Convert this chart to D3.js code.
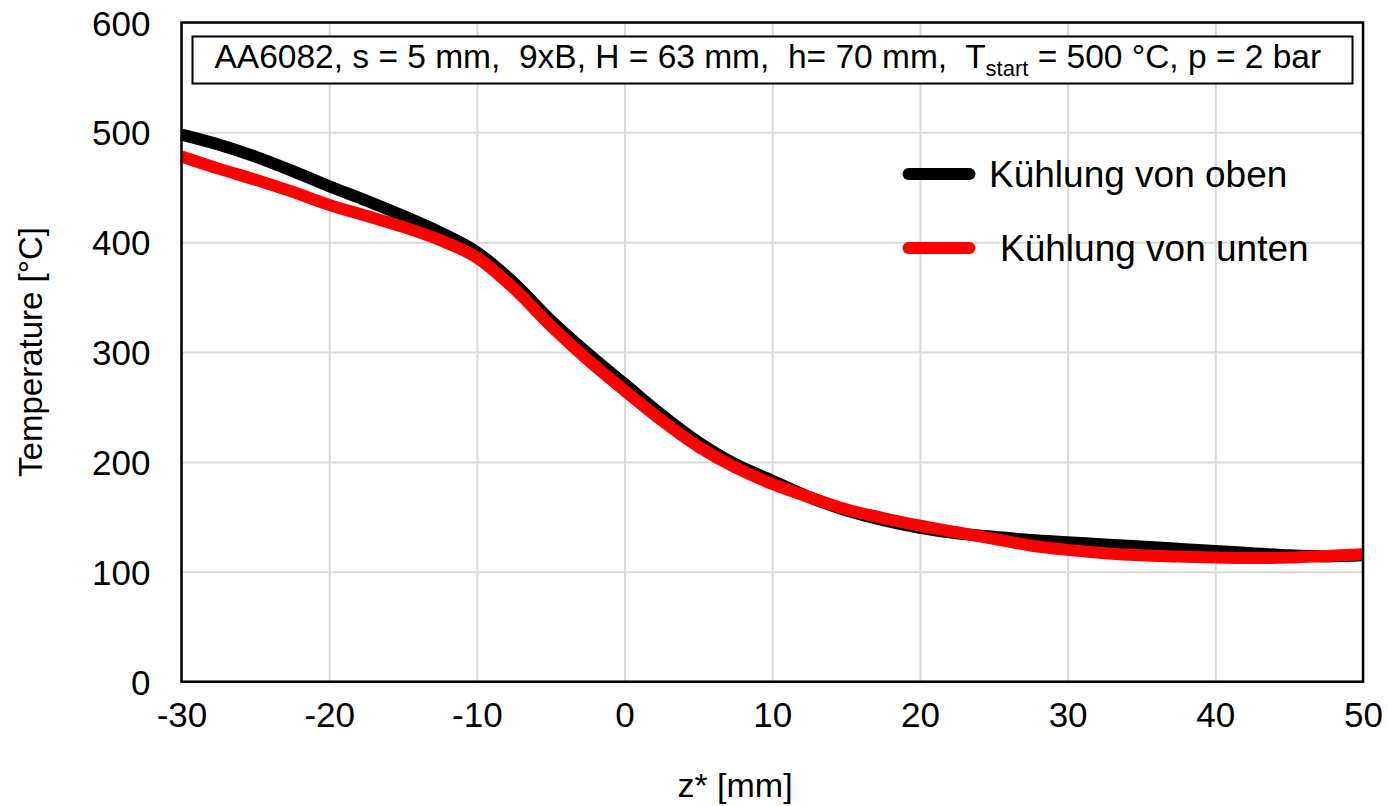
<!DOCTYPE html>
<html>
<head>
<meta charset="utf-8">
<script src="https://cdn.jsdelivr.net/npm/d3@7"></script>
<style>
  body { margin: 0; background: #fff; }
  svg text { font-family: Arial, "Liberation Sans", sans-serif; fill: #000; }
</style>
</head>
<body>
<div id="chart"></div>
<script>
// z* positions [mm]
var zPos = [-30, -27.5, -25, -22.5, -20, -17.5, -15, -12.5, -10, -7.5, -5, -2.5, 0, 2.5, 5, 7.5, 10,
            12.5, 15, 17.5, 20, 22.5, 25, 27.5, 30, 32.5, 35, 37.5, 40, 42.5, 45, 47.5, 50];
// Kühlung von oben (black)
var tOben = [498, 489, 478, 465, 451, 438, 424, 409, 391, 363, 329, 299, 271, 243, 218, 198, 183,
             168, 156, 147, 140, 135, 132, 129, 127, 125, 123, 121, 119, 117, 115, 114, 115];
// Kühlung von unten (red)
var tUnten = [478, 467, 457, 446, 434, 424, 414, 402, 386, 358, 324, 293, 265, 238, 214, 195, 180,
              168, 157, 149, 142, 136, 130, 124, 120, 117, 115, 114, 113, 112.5, 113, 114.5, 116];

var xTicks = [-30, -20, -10, 0, 10, 20, 30, 40, 50];
var yTicks = [0, 100, 200, 300, 400, 500, 600];
var seriesNames = ["Kühlung von oben", "Kühlung von unten"];
var seriesColors = ["#000000", "#ff0000"];

var W = 1388, H = 806;
var margin = {top: 22.5, right: 25, bottom: 124.3, left: 181.5},
    width = W - margin.left - margin.right,
    height = H - margin.top - margin.bottom;

var svg = d3.select("#chart").append("svg")
    .attr("width", W)
    .attr("height", H);

var g = svg.append("g")
    .attr("transform", "translate(" + margin.left + "," + margin.top + ")");

var x = d3.scaleLinear().domain([-30, 50]).range([0, width]);
var y = d3.scaleLinear().domain([0, 600]).range([height, 0]);

// grid lines
g.append("g")
  .attr("transform", "translate(0," + height + ")")
  .call(d3.axisBottom(x).tickValues(xTicks).tickSize(-height).tickFormat(""))
  .call(function(a) {
    a.select(".domain").remove();
    a.selectAll("line").attr("stroke", "#d9d9d9").attr("stroke-width", 2);
  });
g.append("g")
  .call(d3.axisLeft(y).tickValues(yTicks).tickSize(-width).tickFormat(""))
  .call(function(a) {
    a.select(".domain").remove();
    a.selectAll("line").attr("stroke", "#d9d9d9").attr("stroke-width", 2);
  });

// tick labels
g.append("g")
  .attr("transform", "translate(0," + height + ")")
  .call(d3.axisBottom(x).tickValues(xTicks).tickSize(0).tickPadding(20).tickFormat(function(d) { return d; }))
  .call(function(a) {
    a.select(".domain").remove();
    a.selectAll("text").style("font-size", "35px").attr("font-family", null);
  });
g.append("g")
  .call(d3.axisLeft(y).tickValues(yTicks).tickSize(0).tickPadding(31))
  .call(function(a) {
    a.select(".domain").remove();
    a.selectAll("text").style("font-size", "35px").attr("dy", "0.36em").attr("font-family", null);
  });

// lines
var line = d3.line()
  .x(function(d) { return x(d[0]); })
  .y(function(d) { return y(d[1]); })
  .curve(d3.curveCatmullRom);

[tOben, tUnten].forEach(function(vals, i) {
  g.append("path")
    .datum(zPos.map(function(z, j) { return [z, vals[j]]; }))
    .attr("fill", "none")
    .attr("stroke", seriesColors[i])
    .attr("stroke-width", 12)
    .attr("d", line);
});

// frame
g.append("rect")
  .attr("width", width)
  .attr("height", height)
  .attr("fill", "none")
  .attr("stroke", "#000")
  .attr("stroke-width", 2.5);

// annotation box
g.append("rect")
  .attr("x", 11)
  .attr("y", 14)
  .attr("width", 1160)
  .attr("height", 47)
  .attr("fill", "#fff")
  .attr("stroke", "#000")
  .attr("stroke-width", 2);

var ann = g.append("text")
  .attr("x", 33)
  .attr("y", 45)
  .style("white-space", "pre")
  .style("font-size", "33.5px");
ann.append("tspan").text("AA6082, s = 5 mm,  9xB, H = 63 mm,  h= 70 mm,  T");
ann.append("tspan").attr("dy", 8).style("font-size", "22px").text("start");
ann.append("tspan").attr("dy", -8).text(" = 500 °C, p = 2 bar");

// legend
var legend = g.append("g");
seriesNames.forEach(function(name, i) {
  var ly = 151.5 + i * 74;
  legend.append("line")
    .attr("x1", 727).attr("x2", 788)
    .attr("y1", ly).attr("y2", ly)
    .attr("stroke", seriesColors[i])
    .attr("stroke-width", 12)
    .attr("stroke-linecap", "round");
  legend.append("text")
    .attr("x", i === 0 ? 807.5 : 818.5)
    .attr("y", ly + 12.5)
    .style("font-size", "37px")
    .text(name);
});

// axis titles
svg.append("text")
  .attr("x", 735)
  .attr("y", 797)
  .attr("text-anchor", "middle")
  .style("font-size", "34px")
  .text("z* [mm]");

svg.append("text")
  .attr("transform", "translate(42,352) rotate(-90)")
  .attr("text-anchor", "middle")
  .style("font-size", "33px")
  .text("Temperature [°C]");
</script>
</body>
</html>
